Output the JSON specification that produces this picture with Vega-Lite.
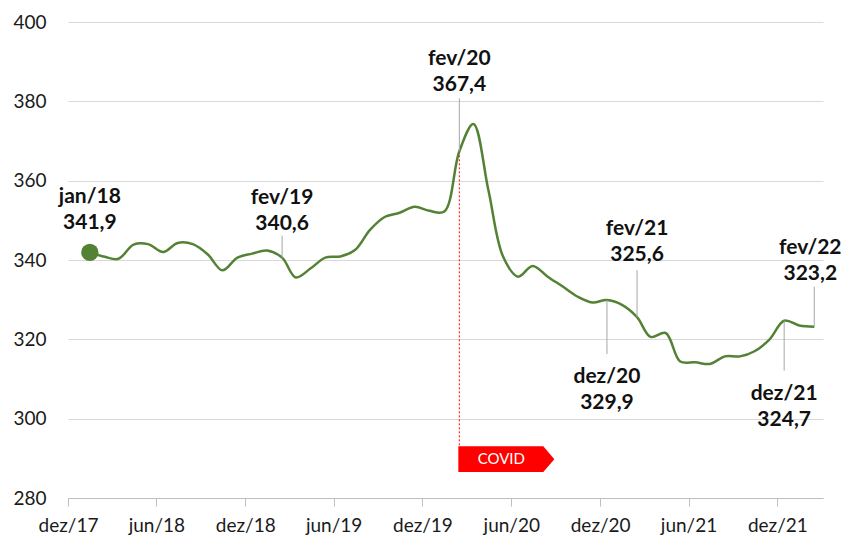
{
  "$schema": "https://vega.github.io/schema/vega-lite/v6.json",
  "width": 755,
  "height": 476,
  "autosize": {"type": "none"},
  "padding": {"left": 68, "top": 22, "right": 20, "bottom": 39},
  "background": "white",
  "config": {"view": {"stroke": null}, "font": "Lato"},
  "datasets": {
    "series": [
      {"date": "2018-01-15", "value": 341.9},
      {"date": "2018-02-15", "value": 340.8},
      {"date": "2018-03-15", "value": 340.3},
      {"date": "2018-04-15", "value": 343.9},
      {"date": "2018-05-15", "value": 344.0},
      {"date": "2018-06-15", "value": 342.0},
      {"date": "2018-07-15", "value": 344.3},
      {"date": "2018-08-15", "value": 344.0},
      {"date": "2018-09-15", "value": 341.4},
      {"date": "2018-10-15", "value": 337.4},
      {"date": "2018-11-15", "value": 340.6},
      {"date": "2018-12-15", "value": 341.6},
      {"date": "2019-01-15", "value": 342.4},
      {"date": "2019-02-15", "value": 340.6},
      {"date": "2019-03-15", "value": 335.6},
      {"date": "2019-04-15", "value": 337.9},
      {"date": "2019-05-15", "value": 340.6},
      {"date": "2019-06-15", "value": 340.9},
      {"date": "2019-07-15", "value": 342.5},
      {"date": "2019-08-15", "value": 347.6},
      {"date": "2019-09-15", "value": 350.9},
      {"date": "2019-10-15", "value": 351.9},
      {"date": "2019-11-15", "value": 353.4},
      {"date": "2019-12-15", "value": 352.4},
      {"date": "2020-01-15", "value": 352.2},
      {"date": "2020-02-15", "value": 367.4},
      {"date": "2020-03-15", "value": 374.3},
      {"date": "2020-04-15", "value": 357.5},
      {"date": "2020-05-15", "value": 340.9},
      {"date": "2020-06-15", "value": 335.8},
      {"date": "2020-07-15", "value": 338.5},
      {"date": "2020-08-15", "value": 335.8},
      {"date": "2020-09-15", "value": 333.3},
      {"date": "2020-10-15", "value": 330.8},
      {"date": "2020-11-15", "value": 329.3},
      {"date": "2020-12-15", "value": 329.9},
      {"date": "2021-01-15", "value": 328.7},
      {"date": "2021-02-15", "value": 325.6},
      {"date": "2021-03-15", "value": 320.6},
      {"date": "2021-04-15", "value": 321.6},
      {"date": "2021-05-15", "value": 314.4},
      {"date": "2021-06-15", "value": 314.2},
      {"date": "2021-07-15", "value": 313.8},
      {"date": "2021-08-15", "value": 315.7},
      {"date": "2021-09-15", "value": 315.7},
      {"date": "2021-10-15", "value": 317.0},
      {"date": "2021-11-15", "value": 320.0},
      {"date": "2021-12-15", "value": 324.7},
      {"date": "2022-01-15", "value": 323.5},
      {"date": "2022-02-15", "value": 323.2}
    ],
    "notes": [
      {"key": "jan/18", "date": "2018-01-15", "value": 341.9, "label": "jan/18\n341,9"},
      {"key": "fev/19", "date": "2019-02-15", "value": 340.6, "label": "fev/19\n340,6"},
      {"key": "fev/20", "date": "2020-02-15", "value": 367.4, "label": "fev/20\n367,4"},
      {"key": "dez/20", "date": "2020-12-15", "value": 329.9, "label": "dez/20\n329,9"},
      {"key": "fev/21", "date": "2021-02-15", "value": 325.6, "label": "fev/21\n325,6"},
      {"key": "dez/21", "date": "2021-12-15", "value": 324.7, "label": "dez/21\n324,7"},
      {"key": "fev/22", "date": "2022-02-15", "value": 323.2, "label": "fev/22\n323,2"}
    ],
    "covid": [
      {"date": "2020-02-15", "value": 367.4, "event": "COVID"}
    ]
  },
  "encoding": {
    "x": {
      "field": "date",
      "type": "temporal",
      "scale": {
        "type": "utc",
        "domain": [
          {"year": 2017, "month": 12, "date": 1, "utc": true},
          {"year": 2022, "month": 3, "date": 5, "utc": true}
        ]
      },
      "axis": {
        "title": null,
        "grid": false,
        "values": [
          {"year": 2017, "month": 12, "date": 1, "utc": true},
          {"year": 2018, "month": 6, "date": 1, "utc": true},
          {"year": 2018, "month": 12, "date": 1, "utc": true},
          {"year": 2019, "month": 6, "date": 1, "utc": true},
          {"year": 2019, "month": 12, "date": 1, "utc": true},
          {"year": 2020, "month": 6, "date": 1, "utc": true},
          {"year": 2020, "month": 12, "date": 1, "utc": true},
          {"year": 2021, "month": 6, "date": 1, "utc": true},
          {"year": 2021, "month": 12, "date": 1, "utc": true}
        ],
        "labelExpr": "(utcFormat(datum.value, '%m') == '12' ? 'dez/' : 'jun/') + utcFormat(datum.value, '%y')",
        "labelFlush": false,
        "labelOverlap": false,
        "labelFont": "Lato",
        "labelFontSize": 19,
        "labelColor": "#1a1a1a",
        "labelPadding": 10,
        "domainColor": "#bfbfbf",
        "tickColor": "#bfbfbf",
        "tickSize": 8
      }
    },
    "y": {
      "field": "value",
      "type": "quantitative",
      "scale": {"domain": [280, 400], "nice": false, "zero": false},
      "axis": {
        "title": null,
        "values": [280, 300, 320, 340, 360, 380, 400],
        "grid": true,
        "gridColor": "#d9d9d9",
        "domain": false,
        "ticks": false,
        "labelFont": "Lato",
        "labelFontSize": 19,
        "labelColor": "#1a1a1a",
        "labelPadding": 22
      }
    }
  },
  "layer": [
    {
      "data": {"name": "covid"},
      "mark": {"type": "rule", "color": "#ff0000", "strokeWidth": 1, "strokeDash": [2, 2]},
      "encoding": {"y2": {"datum": 293.1}}
    },
    {
      "data": {"name": "covid"},
      "mark": {
        "type": "point",
        "shape": "M-1,-0.27L0.77,-0.27L1,0L0.77,0.27L-1,0.27Z",
        "size": 9216,
        "filled": true,
        "fill": "#ff0000",
        "opacity": 1,
        "strokeWidth": 0,
        "xOffset": 47
      },
      "encoding": {"y": {"datum": 289.8}}
    },
    {
      "data": {"name": "covid"},
      "mark": {
        "type": "text",
        "color": "white",
        "font": "Lato",
        "fontSize": 15,
        "align": "center",
        "baseline": "middle",
        "dx": 42
      },
      "encoding": {"y": {"datum": 289.8}, "text": {"field": "event"}}
    },
    {
      "data": {"name": "series"},
      "mark": {"type": "line", "interpolate": "catmull-rom", "color": "#548235", "strokeWidth": 2.5}
    },
    {
      "data": {"name": "notes"},
      "transform": [{"filter": "datum.key == 'jan/18'"}],
      "layer": [
        {"mark": {"type": "point", "filled": true, "color": "#548235", "opacity": 1, "size": 300}},
        {"mark": {"type": "text", "fontWeight": "bold", "fontSize": 21, "font": "Lato", "color": "#111", "align": "center", "baseline": "bottom", "lineBreak": "\n", "lineHeight": 26, "dy": -45}, "encoding": {"text": {"field": "label"}}}
      ]
    },
    {
      "data": {"name": "notes"},
      "transform": [{"filter": "datum.key == 'fev/19'"}],
      "layer": [
        {"mark": {"type": "rule", "color": "#a6a6a6", "strokeWidth": 1, "y2Offset": -22}, "encoding": {"y2": {"field": "value"}}},
        {"mark": {"type": "text", "fontWeight": "bold", "fontSize": 21, "font": "Lato", "color": "#111", "align": "center", "baseline": "bottom", "lineBreak": "\n", "lineHeight": 26, "dy": -50}, "encoding": {"text": {"field": "label"}}}
      ]
    },
    {
      "data": {"name": "notes"},
      "transform": [{"filter": "datum.key == 'fev/20'"}],
      "layer": [
        {"mark": {"type": "rule", "color": "#a6a6a6", "strokeWidth": 1, "y2Offset": -53}, "encoding": {"y2": {"field": "value"}}},
        {"mark": {"type": "text", "fontWeight": "bold", "fontSize": 21, "font": "Lato", "color": "#111", "align": "center", "baseline": "bottom", "lineBreak": "\n", "lineHeight": 26, "dy": -82}, "encoding": {"text": {"field": "label"}}}
      ]
    },
    {
      "data": {"name": "notes"},
      "transform": [{"filter": "datum.key == 'fev/21'"}],
      "layer": [
        {"mark": {"type": "rule", "color": "#a6a6a6", "strokeWidth": 1, "y2Offset": -47}, "encoding": {"y2": {"field": "value"}}},
        {"mark": {"type": "text", "fontWeight": "bold", "fontSize": 21, "font": "Lato", "color": "#111", "align": "center", "baseline": "bottom", "lineBreak": "\n", "lineHeight": 26, "dy": -78}, "encoding": {"text": {"field": "label"}}}
      ]
    },
    {
      "data": {"name": "notes"},
      "transform": [{"filter": "datum.key == 'fev/22'"}],
      "layer": [
        {"mark": {"type": "rule", "color": "#a6a6a6", "strokeWidth": 1, "y2Offset": -40}, "encoding": {"y2": {"field": "value"}}},
        {"mark": {"type": "text", "fontWeight": "bold", "fontSize": 21, "font": "Lato", "color": "#111", "align": "center", "baseline": "bottom", "lineBreak": "\n", "lineHeight": 26, "dy": -69, "dx": -4}, "encoding": {"text": {"field": "label"}}}
      ]
    },
    {
      "data": {"name": "notes"},
      "transform": [{"filter": "datum.key == 'dez/20'"}],
      "layer": [
        {"mark": {"type": "rule", "color": "#a6a6a6", "strokeWidth": 1, "y2Offset": 54}, "encoding": {"y2": {"field": "value"}}},
        {"mark": {"type": "text", "fontWeight": "bold", "fontSize": 21, "font": "Lato", "color": "#111", "align": "center", "baseline": "top", "lineBreak": "\n", "lineHeight": 26, "dy": 66}, "encoding": {"text": {"field": "label"}}}
      ]
    },
    {
      "data": {"name": "notes"},
      "transform": [{"filter": "datum.key == 'dez/21'"}],
      "layer": [
        {"mark": {"type": "rule", "color": "#a6a6a6", "strokeWidth": 1, "y2Offset": 50}, "encoding": {"y2": {"field": "value"}}},
        {"mark": {"type": "text", "fontWeight": "bold", "fontSize": 21, "font": "Lato", "color": "#111", "align": "center", "baseline": "top", "lineBreak": "\n", "lineHeight": 26, "dy": 62}, "encoding": {"text": {"field": "label"}}}
      ]
    }
  ]
}
